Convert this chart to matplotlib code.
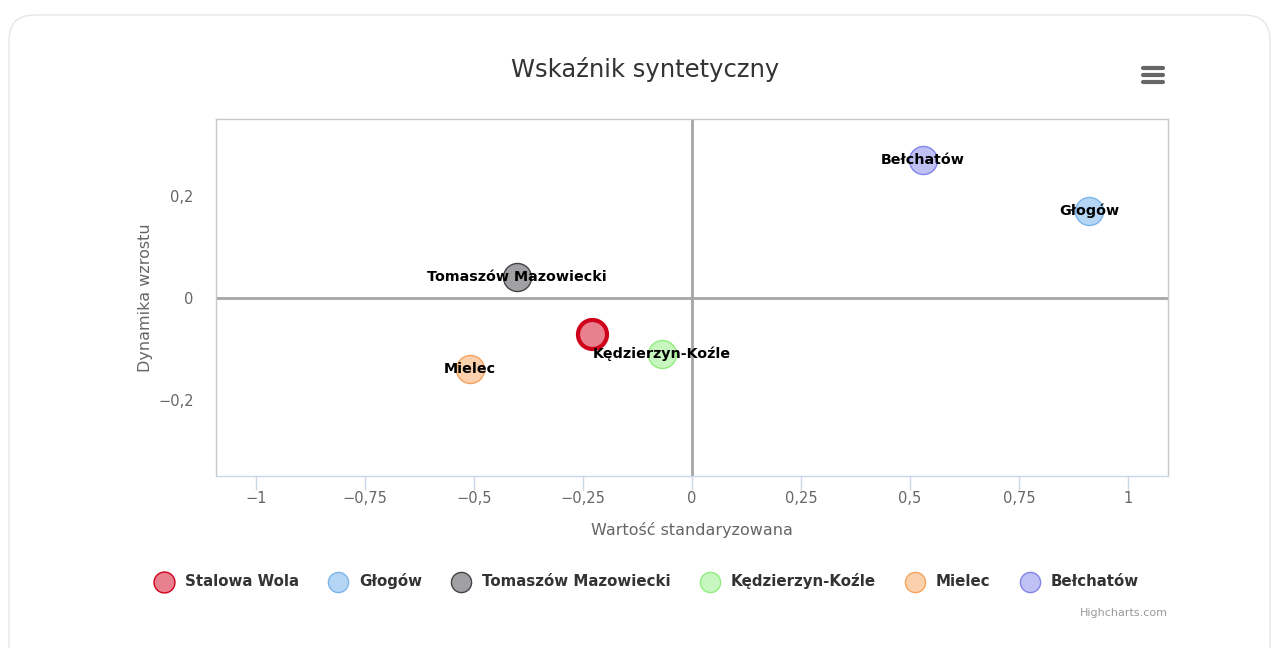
import matplotlib
matplotlib.use("Agg")
import matplotlib.pyplot as plt
from matplotlib.patches import FancyBboxPatch
from matplotlib.lines import Line2D

cities = ['Stalowa Wola', 'Głogów', 'Tomaszów Mazowiecki', 'Kędzierzyn-Koźle', 'Mielec', 'Bełchatów']
x_vals = [-0.229, 0.911, -0.401, -0.069, -0.509, 0.530]
y_vals = [-0.071, 0.171, 0.041, -0.110, -0.139, 0.271]
fills = ['#e8808e', '#b5d5f5', '#a1a1a3', '#c7f6be', '#fbd1ad', '#bfc1f4']
edges = ['#d0021b', '#7cb5ec', '#434348', '#90ed7d', '#f7a35c', '#8085e9']
x_ticks = [-1, -0.75, -0.5, -0.25, 0, 0.25, 0.5, 0.75, 1]
y_ticks = [-0.2, 0, 0.2]

def pl(v):
    s = ('%g' % v).replace('.', ',').replace('-', '−')
    return s

fig = plt.figure(figsize=(12.77, 6.48), dpi=100)
fig.patch.set_facecolor('white')

# card border
card = FancyBboxPatch((9 / 1277, -0.05), 1261 / 1277, 1.05 - 15 / 648,
                      boxstyle='round,pad=0,rounding_size=0.02',
                      transform=fig.transFigure, facecolor='white',
                      edgecolor='#e6e6e6', linewidth=1, mutation_aspect=1277 / 648,
                      zorder=-10)
fig.patches.append(card)

ax = fig.add_axes([216 / 1277, 1 - 476 / 648, 952 / 1277, 357 / 648])
ax.set_zorder(2)
ax.set_xlim(-1.092, 1.092)
ax.set_ylim(-0.35, 0.351)

for sp in ax.spines.values():
    sp.set_color('#c8c8c8')
    sp.set_linewidth(1)
ax.spines['bottom'].set_color('#ccd6eb')

ax.axvline(0, color='#a6a6a6', lw=2, zorder=1)
ax.axhline(0, color='#a6a6a6', lw=2, zorder=1)

ax.set_xticks(x_ticks)
ax.set_xticklabels([pl(v) for v in x_ticks])
ax.set_yticks(y_ticks)
ax.set_yticklabels([pl(v) for v in y_ticks])
ax.tick_params(axis='x', colors='#ccd6eb', labelcolor='#666666', length=10, width=1,
               labelsize=10.5, pad=1)
ax.tick_params(axis='y', length=0, labelcolor='#666666', labelsize=10.5, pad=16)

ax.set_xlabel('Wartość standaryzowana', color='#666666', fontsize=11.5, labelpad=11)
ax.set_ylabel('Dynamika wzrostu', color='#666666', fontsize=11.5, labelpad=4)

for i, name in enumerate(cities):
    lw = 3 if i == 0 else 1
    ax.scatter(x_vals[i], y_vals[i], s=29 ** 2 * 0.52 if i == 0 else 28 ** 2 * 0.52,
               facecolor=fills[i], edgecolor=edges[i], linewidth=lw, zorder=3, label=name)
    if i > 0:
        ax.text(x_vals[i], y_vals[i], name, ha='center', va='center', fontsize=10.3,
                fontweight='bold', color='black', zorder=4)

fig.text(645 / 1277, 1 - 70 / 648, 'Wskaźnik syntetyczny', ha='center', va='center',
         fontsize=17.5, color='#333333')

# menu icon
for yy in (68, 75, 82):
    fig.add_artist(Line2D([1143 / 1277, 1163 / 1277], [1 - yy / 648] * 2,
                          color='#666666', lw=3, solid_capstyle='round'))

leg = fig.legend(loc='center', bbox_to_anchor=(647 / 1277, 1 - 581 / 648), ncol=6,
                 frameon=False, fontsize=10.8, handletextpad=0.8, columnspacing=2.0,
                 markerscale=0.72, handlelength=1.2)
for t in leg.get_texts():
    t.set_fontweight('bold')
    t.set_color('#333333')
for h in leg.legend_handles:
    h.set_linewidth(1)

fig.text(1168 / 1277, 1 - 613 / 648, 'Highcharts.com', ha='right', va='center',
         fontsize=8, color='#999999')

fig.savefig('out.png', dpi=100)
